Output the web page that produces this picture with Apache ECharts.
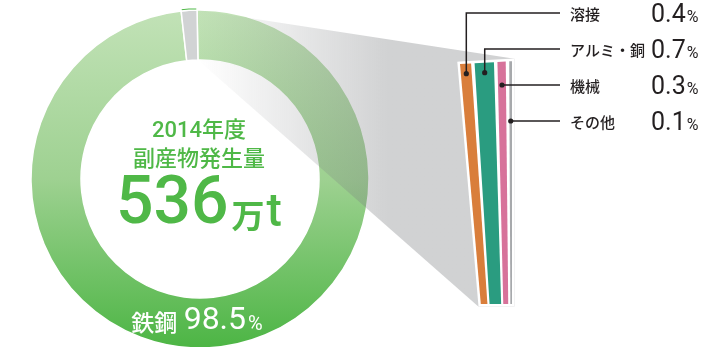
<!DOCTYPE html>
<html><head><meta charset="utf-8">
<script src="https://cdn.jsdelivr.net/npm/echarts@6/dist/echarts.min.js"></script>
<style>html,body{margin:0;padding:0;background:#fff}#c{width:706px;height:347px}</style>
</head><body><div id="c"></div>
<script>
// ---- data ----
const PIE_CATEGORIES = ['鉄鋼', 'その他'];
const PIE_VALUES = [98.5, 1.5];
const DETAIL_CATEGORIES = ['溶接', 'アルミ・銅', '機械', 'その他'];
const DETAIL_VALUES = [0.4, 0.7, 0.3, 0.1];
const TITLE_LINES = ['2014年度', '副産物発生量'];
const TOTAL_AMOUNT = '536';
const TOTAL_UNIT = ['万', 't'];

// ---- layout / style ----
const CX = 200, CY = 179, R_IN = 119, R_OUT = 169;
const START_ANGLE = 91;
const BAR_LEFT = 460, BAR_TOP = 64, BAR_H = 240, GAP = 3.5, BAR_SPAN = 52;
const TAPER = 0.6, TOP_SLOPE = 0.055;
const ROW_Y0 = 13, ROW_STEP = 36, LINE_END = 560, NAME_X = 570, VALUE_X = 651;
const GREEN = '#4fb847', INK = '#231f20';
const BAR_COLORS = ['#d97e3b', '#2a9c80', '#d7729a', '#a7a9ac'];
const FONT = 'Roboto, "Noto Sans CJK JP", sans-serif';
const JFONT = '"Noto Sans CJK JP", sans-serif';

const total = DETAIL_VALUES.reduce((a, b) => a + b, 0);
const starts = []; let acc = 0;
DETAIL_VALUES.forEach(v => { starts.push(acc); acc += v; });
const barData = DETAIL_VALUES.map((v, i) => [starts[i], starts[i] + v, v]);
const nBars = DETAIL_VALUES.length;

const chart = echarts.init(document.getElementById('c'), null, { renderer: 'canvas' });

function renderBar(params, api) {
  const i = params.dataIndex;
  const left = api.coord([0, 1])[0];
  const topY = api.coord([0, 1])[1];
  const botY = api.coord([0, 0])[1];
  const right = api.coord([total, 1])[0] + (nBars - 1) * GAP;
  const yt = x => topY - (x - left) * TOP_SLOPE;
  const xb = x => right - (right - x) * TAPER;
  const xL = api.coord([api.value(0), 1])[0] + i * GAP;
  const xR = api.coord([api.value(1), 1])[0] + i * GAP;
  const children = [];
  if (i === 0) {
    const a0 = START_ANGLE * Math.PI / 180;
    const A = [CX + R_OUT * Math.cos(a0), CY - R_OUT * Math.sin(a0)];
    const D = [CX + R_IN * Math.cos(a0), CY - R_IN * Math.sin(a0)];
    const m = 2.5;
    children.push({
      type: 'polygon', z2: 0,
      shape: { points: [A, [right + m, yt(right) - m], [right + m, botY + m], [xb(left) - m, botY + m], D] },
      style: {
        fill: { type: 'linear', x: D[0], y: 0, x2: D[0] + 190, y2: 0, global: true,
          colorStops: [{ offset: 0, color: 'rgba(120,123,126,0)' }, { offset: 1, color: 'rgba(120,123,126,0.34)' }] }
      }
    });
    children.push({
      type: 'polygon', z2: 1,
      shape: { points: [[left, yt(left)], [right, yt(right)], [right, botY], [xb(left), botY]] },
      style: { fill: '#fff', stroke: '#fff', lineWidth: 5, lineJoin: 'miter' }
    });
  }
  children.push({
    type: 'polygon', z2: 2,
    shape: { points: [[xL, yt(xL)], [xR, yt(xR)], [xb(xR), botY], [xb(xL), botY]] },
    style: { fill: BAR_COLORS[i] }
  });
  // leader
  const rowY = ROW_Y0 + i * ROW_STEP;
  const xc = (xL + xR) / 2;
  const ytc = yt(xc);
  const dotY = Math.max(rowY, ytc + 10);
  const t = (dotY - ytc) / (botY - ytc);
  const dx = xc + (xb(xc) - xc) * t;
  children.push({
    type: 'polyline', z2: 5,
    shape: { points: [[dx, dotY], [dx, rowY], [LINE_END, rowY]] },
    style: { stroke: INK, lineWidth: 1.5, fill: null }
  });
  children.push({ type: 'circle', z2: 6, shape: { cx: dx, cy: dotY, r: 2.6 }, style: { fill: INK } });
  children.push({
    type: 'text', z2: 6, x: NAME_X, y: rowY + 1,
    style: { text: DETAIL_CATEGORIES[i], fill: INK, font: '500 15px ' + JFONT, align: 'left', verticalAlign: 'middle' }
  });
  children.push({
    type: 'text', z2: 6, x: VALUE_X, y: rowY + 1,
    style: {
      text: '{v|' + DETAIL_VALUES[i].toFixed(1) + '}{p|%}', align: 'left', verticalAlign: 'middle',
      rich: {
        v: { fill: INK, fontSize: 25, fontFamily: 'Roboto', fontWeight: 400, lineHeight: 28, verticalAlign: 'bottom' },
        p: { fill: INK, fontSize: 16, fontFamily: 'Roboto', fontWeight: 400, lineHeight: 28, verticalAlign: 'bottom', padding: [0, 0, 2, 1] }
      }
    }
  });
  return { type: 'group', children };
}

const option = {
  animation: false,
  grid: { left: BAR_LEFT, top: BAR_TOP, width: BAR_SPAN - (nBars - 1) * GAP, height: BAR_H },
  xAxis: { type: 'value', min: 0, max: total, show: false },
  yAxis: { type: 'value', min: 0, max: 1, show: false },
  series: [
    {
      type: 'pie', z: 2, silent: true, center: [CX, CY], radius: [R_IN, R_OUT],
      startAngle: START_ANGLE, clockwise: true, label: { show: false }, labelLine: { show: false },
      itemStyle: { borderColor: '#fff', borderWidth: 1.5 },
      data: PIE_CATEGORIES.map((name, i) => ({
        name, value: PIE_VALUES[i],
        itemStyle: {
          color: i === 0 ? new echarts.graphic.LinearGradient(0, 0, 0, 1, [
            { offset: 0, color: '#c2e2b7' }, { offset: 0.5, color: '#9ed191' }, { offset: 1, color: '#4cb544' }
          ]) : '#d1d3d4'
        }
      }))
    },
    {
      type: 'pie', z: 2, silent: true, center: [CX, CY], radius: [R_OUT, R_OUT + 2.5],
      startAngle: START_ANGLE, clockwise: true, label: { show: false }, labelLine: { show: false },
      itemStyle: { borderColor: '#fff', borderWidth: 1.5 },
      data: PIE_CATEGORIES.map((name, i) => ({
        name, value: PIE_VALUES[i],
        itemStyle: { color: i === 0 ? 'rgba(0,0,0,0)' : GREEN, borderWidth: i === 0 ? 0 : 1.5 }
      }))
    },
    {
      type: 'custom', z: 4, silent: true, clip: false, coordinateSystem: 'cartesian2d',
      renderItem: renderBar, data: barData, encode: { x: [0, 1] }
    }
  ],
  graphic: [
    { type: 'text', z: 100, x: CX - 1, y: 131,
      style: { text: TITLE_LINES[0], fill: GREEN, font: '500 22px ' + FONT, align: 'center', verticalAlign: 'middle' } },
    { type: 'text', z: 100, x: CX - 1, y: 158,
      style: { text: TITLE_LINES[1], fill: GREEN, font: '500 22px ' + JFONT, align: 'center', verticalAlign: 'middle' } },
    { type: 'text', z: 100, x: CX - 1, y: 206,
      style: {
        text: '{n|' + TOTAL_AMOUNT + '}{u|' + TOTAL_UNIT[0] + '}{t|' + TOTAL_UNIT[1] + '}', align: 'center', verticalAlign: 'middle',
        rich: {
          n: { fill: GREEN, fontSize: 66, fontFamily: 'Roboto', fontWeight: 500, lineHeight: 66, verticalAlign: 'bottom' },
          u: { fill: GREEN, fontSize: 33, fontFamily: JFONT, fontWeight: 700, lineHeight: 66, verticalAlign: 'bottom', padding: [0, 0, 7, 3] },
          t: { fill: GREEN, fontSize: 46, fontFamily: 'Roboto', fontWeight: 500, lineHeight: 66, verticalAlign: 'bottom', padding: [0, 0, 2, 2] }
        }
      } },
    { type: 'text', z: 100, x: 197, y: 320,
      style: {
        text: '{a|' + PIE_CATEGORIES[0] + '} {b|' + PIE_VALUES[0].toFixed(1) + '}{c|%}', align: 'center', verticalAlign: 'middle',
        rich: {
          a: { fill: '#fff', fontSize: 23, fontFamily: JFONT, fontWeight: 500, lineHeight: 34, verticalAlign: 'bottom', padding: [0, 3, 3, 0] },
          b: { fill: '#fff', fontSize: 32, fontFamily: 'Roboto', fontWeight: 400, lineHeight: 34, verticalAlign: 'bottom' },
          c: { fill: '#fff', fontSize: 20, fontFamily: 'Roboto', fontWeight: 400, lineHeight: 34, verticalAlign: 'bottom', padding: [0, 0, 2, 2] }
        }
      } }
  ]
};
chart.setOption(option);
</script>
</body></html>
